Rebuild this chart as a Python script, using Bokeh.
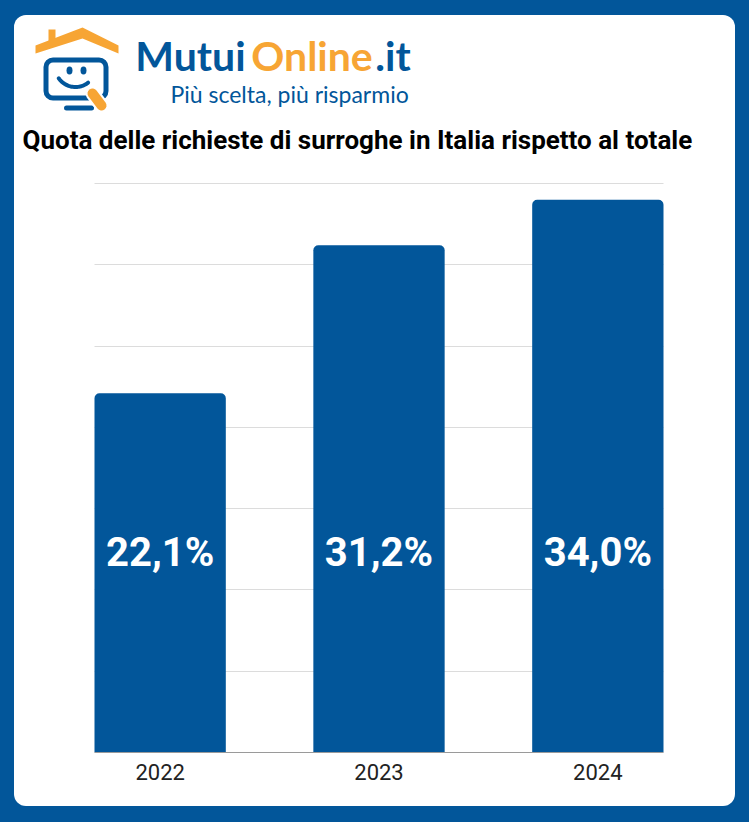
import numpy as np
from bokeh.plotting import figure
from bokeh.layouts import column
from bokeh.models import Range1d, FixedTicker, Label, ColumnDataSource
from bokeh.core.properties import value
from bokeh.embed import file_html
from bokeh.resources import INLINE

# ---- data ----
YEARS = ["2022", "2023", "2024"]
SHARES = [22.1, 31.2, 34.0]
TITLE = "Quota delle richieste di surroghe in Italia rispetto al totale"
BRAND_PARTS = ["Mutui", "Online", ".it"]
TAGLINE = "Più scelta, più risparmio"

BLUE = "#02569a"
ORANGE = "#f7a534"

# ---- geometry (pixels) ----
CARD_W = 721
HEAD_H = 150
CHART_H = 641
FRAME_L, FRAME_W = 80, 569
FRAME_TOP, FRAME_H = 16, 571
Y_TOP_GRID = 35
BAR_W = 0.6

# ---- logo / header figure (pixel coordinates, y pointing down) ----
logo = figure(width=CARD_W, height=HEAD_H, x_range=Range1d(0, CARD_W), y_range=Range1d(HEAD_H, 0),
              toolbar_location=None, output_backend="svg", x_axis_type=None, y_axis_type=None,
              min_border=0, border_fill_alpha=0, background_fill_alpha=0, outline_line_color=None)
logo.grid.visible = False

# roof + chimney
logo.quad(left=[34], right=[41], top=[14], bottom=[27], fill_color=ORANGE, line_color=None)
logo.patch([21, 68, 104, 104, 68, 21], [30, 12, 30, 38, 23, 38], fill_color=ORANGE, line_color=None)
# monitor
logo.quad(left=[31.5], right=[91.5], top=[44.5], bottom=[82.5], fill_color=None,
          line_color=BLUE, line_width=5, border_radius=7)
logo.ellipse(x=[55, 69], y=[55, 55], width=6, height=8, fill_color=BLUE, line_color=None)
t = np.radians(np.linspace(52, 145, 30))
logo.line(61 + 20.5 * np.cos(t), 51 + 20.5 * np.sin(t), line_color=BLUE, line_width=4, line_cap="round")
logo.line([52, 77], [92.5, 92.5], line_color=BLUE, line_width=5, line_cap="round")
logo.line([78, 87], [78, 90], line_color="white", line_width=14, line_cap="round")
logo.line([78, 87], [78, 90], line_color=ORANGE, line_width=10, line_cap="round")

# brand text
for txt, x, col in zip(BRAND_PARTS, [176, 297.5, 378.5], [BLUE, ORANGE, BLUE]):
    logo.add_layout(Label(x=x, y=40, text=txt, text_align="center", text_baseline="middle",
                          text_font="Lato", text_font_style="bold", text_font_size="41px", text_color=col))
logo.add_layout(Label(x=156, y=78, text=TAGLINE, text_align="left", text_baseline="middle",
                      text_font="Lato", text_font_size="23px", text_color=BLUE))
logo.add_layout(Label(x=8, y=124.5, text=TITLE, text_align="left", text_baseline="middle",
                      text_font="Roboto", text_font_style="bold", text_font_size="26px", text_color="black"))

# ---- chart figure ----
X = list(range(len(YEARS)))
LABELS = [f"{v:.1f}".replace(".", ",") + "%" for v in SHARES]
LABEL_Y = 12.3
src = ColumnDataSource(dict(x=X, top=SHARES, label=LABELS, ly=[LABEL_Y] * len(X)))

x0, x1 = -BAR_W / 2, len(X) - 1 + BAR_W / 2
upp = (x1 - x0) / FRAME_W
x_range = Range1d(x0 - FRAME_L * upp, x1 + (CARD_W - FRAME_L - FRAME_W) * upp)
y_end = Y_TOP_GRID * FRAME_H / (FRAME_H - 2)

p = figure(width=CARD_W, height=CHART_H, x_range=x_range, y_range=Range1d(0, y_end),
           toolbar_location=None, output_backend="svg",
           min_border_left=0, min_border_right=0, min_border_top=FRAME_TOP,
           min_border_bottom=CHART_H - FRAME_TOP - FRAME_H,
           border_fill_alpha=0, background_fill_alpha=0, outline_line_color=None)
p.vbar(x="x", top="top", width=BAR_W, source=src, fill_color=BLUE, line_color=None,
       border_radius=(5, 5, 0, 0))
p.text(x="x", y="ly", text="label", source=src, text_align="center", text_baseline="middle",
       text_font=value("Roboto"), text_font_style="bold", text_font_size="40px", text_color="white")

p.yaxis.visible = False
p.xgrid.visible = False
p.ygrid.ticker = FixedTicker(ticks=list(range(0, Y_TOP_GRID + 1, 5)))
p.ygrid.grid_line_color = "#dcdcdc"
p.ygrid.cross_bounds = (x0, x1)
p.xaxis.bounds = (x0, x1)
p.xaxis.ticker = FixedTicker(ticks=X)
p.xaxis.major_label_overrides = {i: y for i, y in zip(X, YEARS)}
p.xaxis.major_tick_line_color = None
p.xaxis.minor_tick_line_color = None
p.xaxis.axis_line_color = "#9a9a9a"
p.xaxis.major_label_text_font = "Roboto"
p.xaxis.major_label_text_font_size = "22px"
p.xaxis.major_label_text_color = "#222222"
p.xaxis.major_label_standoff = 5

card = column(logo, p, spacing=0,
              styles={"background-color": "white", "border-radius": "12px"})

html = file_html(card, INLINE)
html = html.replace("</head>",
                    "<style>html,body{background:%s;} body{padding:15px 0 0 14px;}</style></head>" % BLUE, 1)
open("out.html", "w").write(html)
